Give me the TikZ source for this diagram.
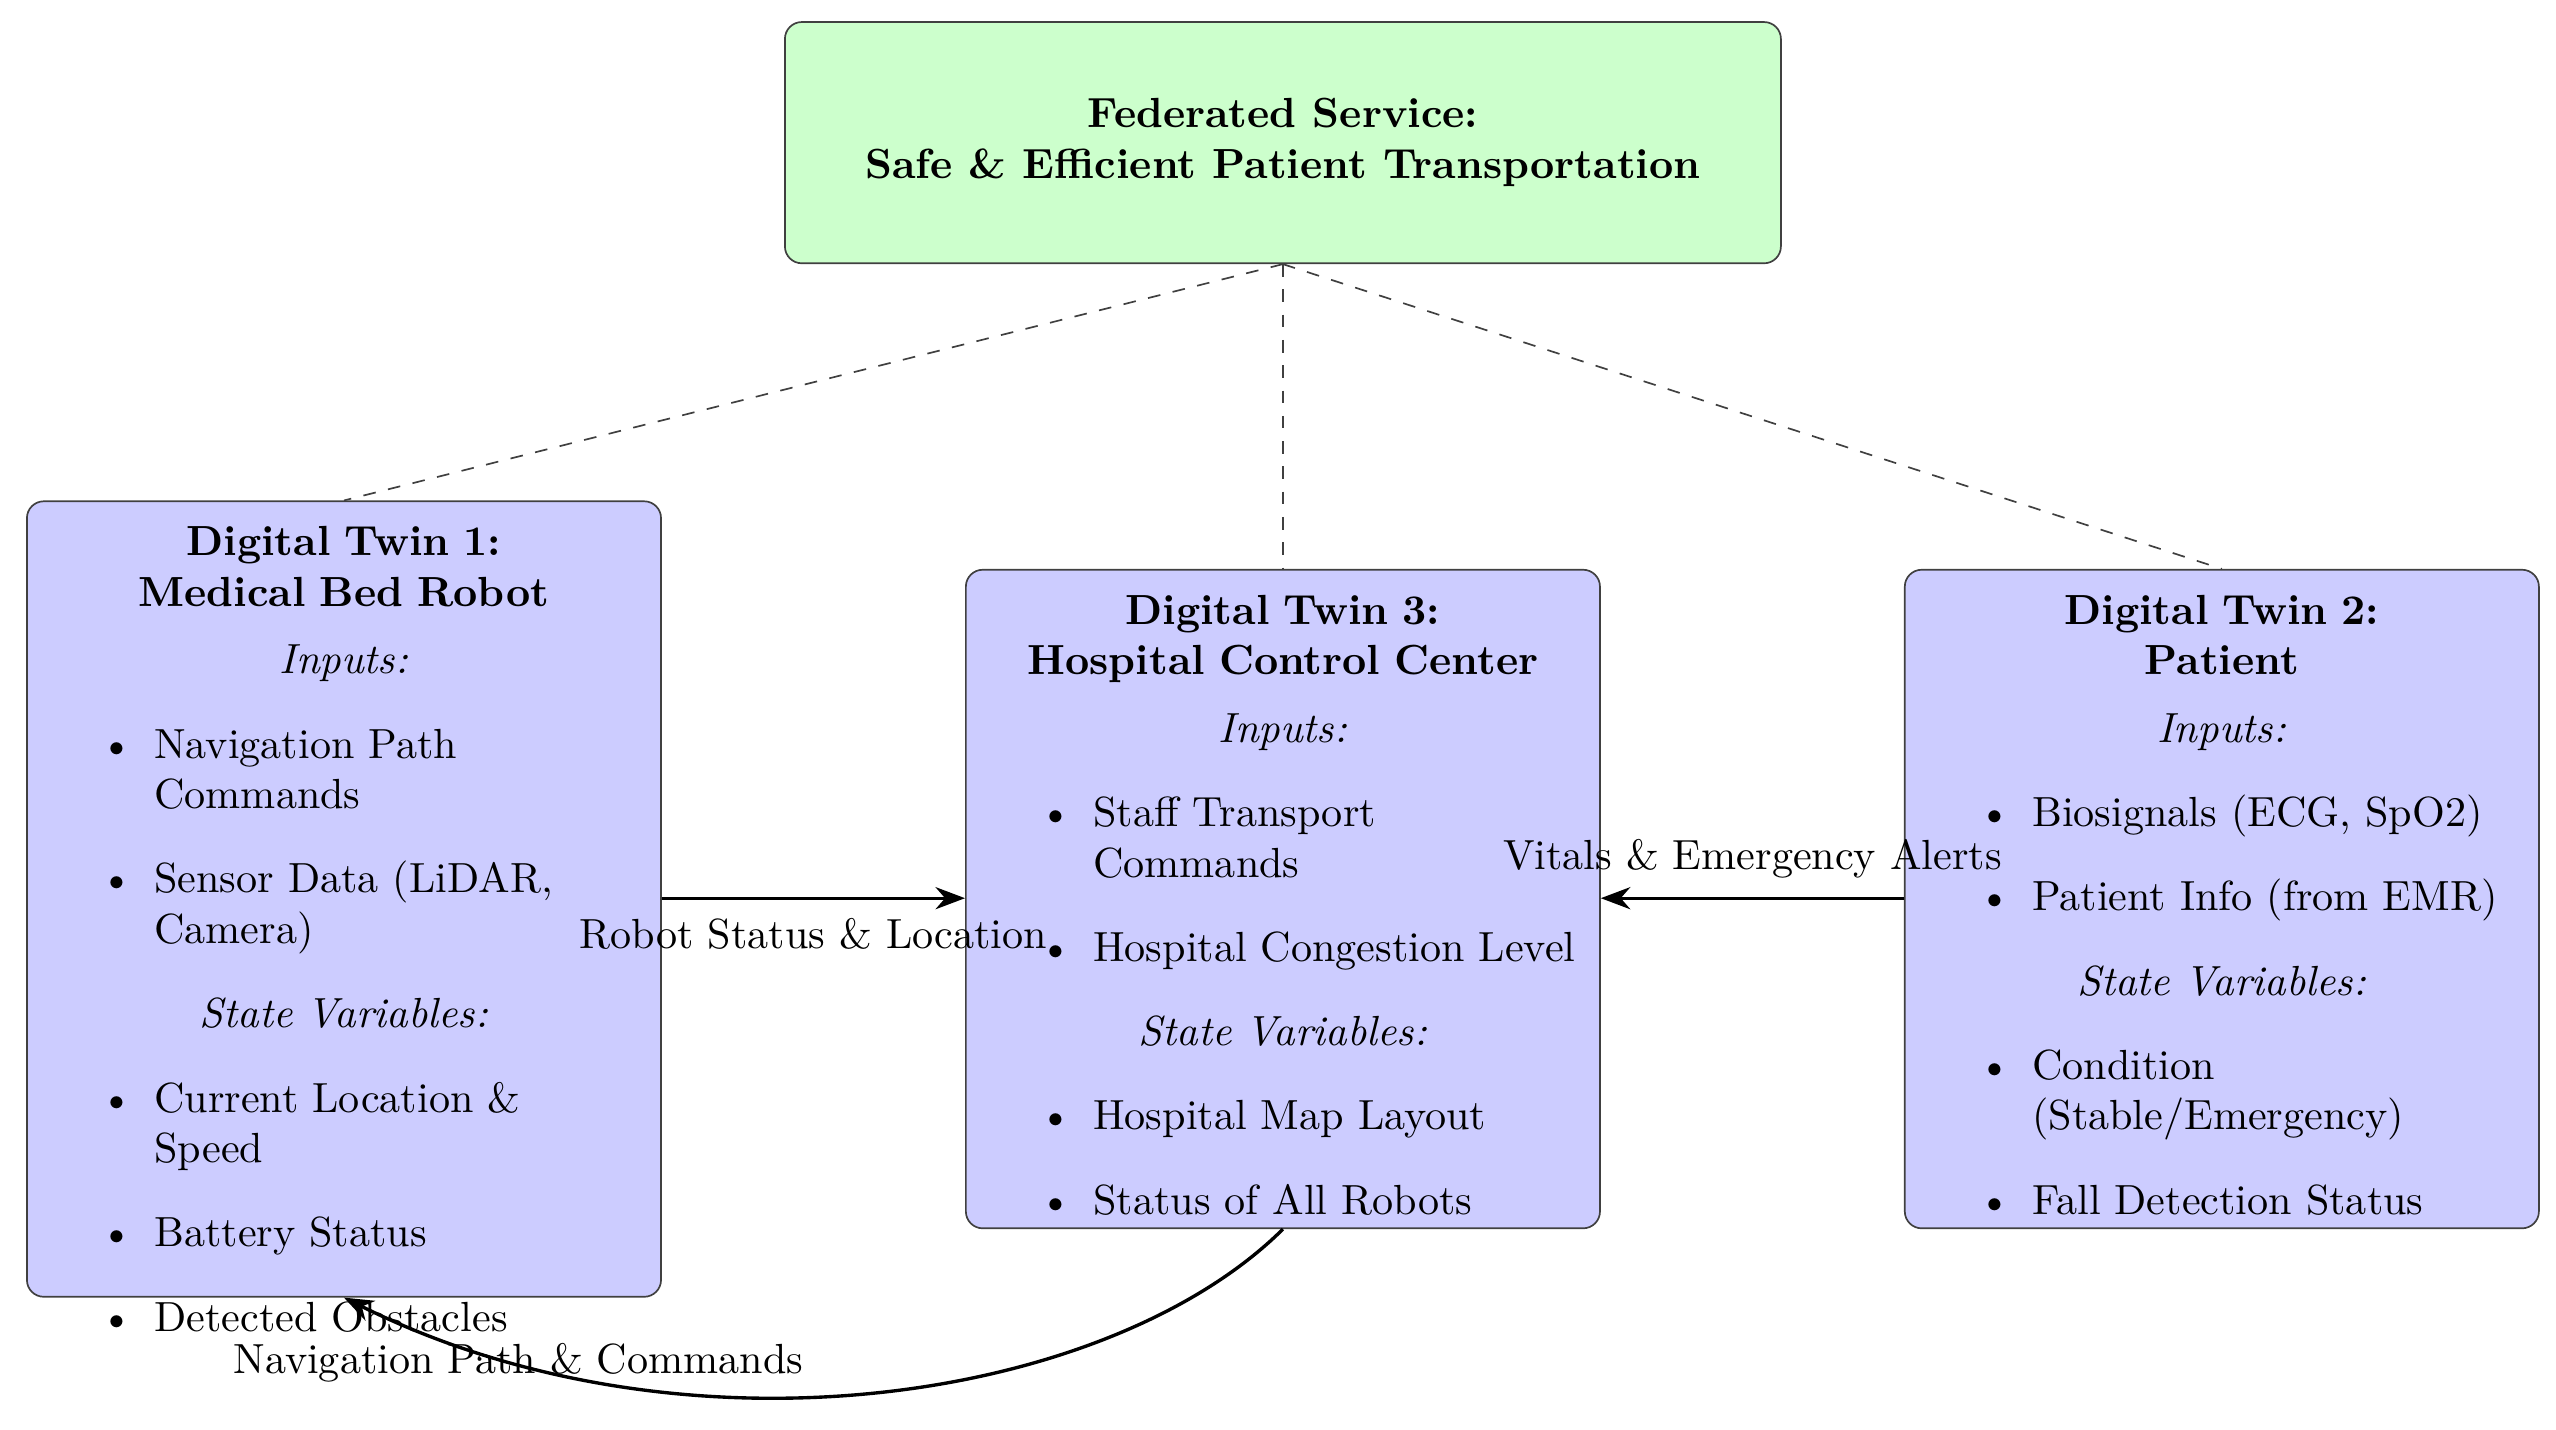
\documentclass[tikz,border=0pt]{standalone}
\usetikzlibrary{arrows.meta}
\definecolor{gfill}{HTML}{CCFFCC}
\definecolor{bfill}{HTML}{CCCCFF}
\begin{document}
\begin{tikzpicture}[x=0.0136cm,y=-0.0136cm,
  box/.style={draw=black!75,rounded corners=4pt,minimum width=389*0.0136cm,anchor=north west},
  cont/.style={anchor=north,text width=140pt,align=center,inner sep=0pt},
  conn/.style={-{Stealth[length=7pt]},thick},
  fed/.style={dashed,draw=black!75}]
\useasboundingbox (0,0) rectangle (1568,877);
\node[box,fill=gfill,minimum width=611*0.0136cm,minimum height=148*0.0136cm,align=center,font=\bfseries] (fs) at (481,13) {Federated Service:\\Safe \& Efficient Patient Transportation};
\node[box,fill=bfill,minimum height=488*0.0136cm] (dt1) at (16,307) {};
\node[box,fill=bfill,minimum height=404*0.0136cm] (dt3) at (592,349) {};
\node[box,fill=bfill,minimum height=404*0.0136cm] (dt2) at (1168,349) {};
\node[cont] (c1) at ([yshift=-6pt]dt1.north) {\begin{minipage}{140pt}\centering
\textbf{Digital Twin 1:}\\\textbf{Medical Bed Robot}\\[4pt]
\textit{Inputs:}
\begin{itemize}\raggedright
\item Navigation Path Commands
\item Sensor Data (LiDAR, Camera)
\end{itemize}
\textit{State Variables:}
\begin{itemize}\raggedright
\item Current Location \& Speed
\item Battery Status
\item Detected Obstacles
\end{itemize}\end{minipage}};
\node[cont] (c3) at ([yshift=-6pt]dt3.north) {\begin{minipage}{140pt}\centering
\textbf{Digital Twin 3:}\\\textbf{Hospital Control Center}\\[4pt]
\textit{Inputs:}
\begin{itemize}\raggedright
\item Staff Transport Commands
\item Hospital Congestion Level
\end{itemize}
\textit{State Variables:}
\begin{itemize}\raggedright
\item Hospital Map Layout
\item Status of All Robots
\end{itemize}\end{minipage}};
\node[cont] (c2) at ([yshift=-6pt]dt2.north) {\begin{minipage}{140pt}\centering
\textbf{Digital Twin 2:}\\\textbf{Patient}\\[4pt]
\textit{Inputs:}
\begin{itemize}\raggedright
\item Biosignals (ECG, SpO2)
\item Patient Info (from EMR)
\end{itemize}
\textit{State Variables:}
\begin{itemize}\raggedright
\item Condition (Stable/Emergency)
\item Fall Detection Status
\end{itemize}\end{minipage}};
\draw[fed] (fs.south) -- (dt1.north);
\draw[fed] (fs.south) -- (dt3.north);
\draw[fed] (fs.south) -- (dt2.north);
\coordinate (a1) at (dt1.east |- 0,551);
\coordinate (a3) at (dt3.west |- 0,551);
\coordinate (b2) at (dt2.west |- 0,551);
\coordinate (b3) at (dt3.east |- 0,551);
\draw[conn] (a1) -- node[below=1pt] (l1) {Robot Status \& Location} (a3);
\draw[conn] (b2) -- node[above=1pt] (l2) {Vitals \& Emergency Alerts} (b3);
\draw[conn] (dt3.south) .. controls (680,860) and (420,900) .. (dt1.south);
\node (l3) at (318,836) {Navigation Path \& Commands};
\end{tikzpicture}
\end{document}
